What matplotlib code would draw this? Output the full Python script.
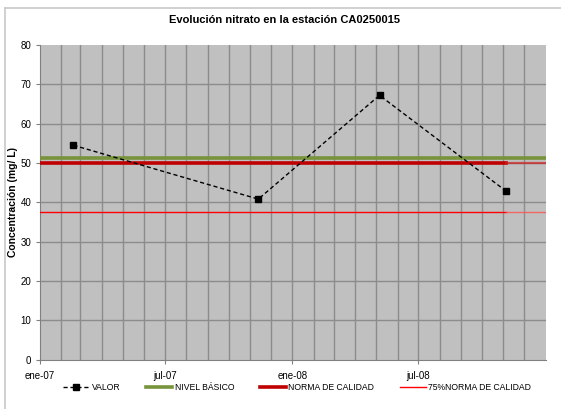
import datetime as dt
import matplotlib
matplotlib.use('Agg')
import matplotlib.pyplot as plt
from matplotlib.lines import Line2D

plt.rcParams['font.family'] = ['Liberation Sans', 'DejaVu Sans']

# data
fechas = [dt.date(2007, 2, 19), dt.date(2007, 11, 13), dt.date(2008, 5, 6), dt.date(2008, 11, 5)]
valor = [54.5, 40.8, 67.2, 42.8]
nivel_basico = 51.3
norma = 50.0
norma75 = 37.5
xmin = dt.date(2007, 1, 1)
xmax = dt.date(2009, 1, 1)
meses_label = ['ene-07', 'jul-07', 'ene-08', 'jul-08']
meses_pos = [dt.date(2007, 1, 1), dt.date(2007, 7, 1), dt.date(2008, 1, 1), dt.date(2008, 7, 1)]

fig = plt.figure(figsize=(5.61, 4.09), dpi=100)
ax = fig.add_axes([39.5/561, 1 - 359.5/409, (545.7 - 39.5)/561, (359.5 - 45)/409])
ax.set_facecolor('#C0C0C0')

# monthly vertical grid
for y in range(2007, 2009):
    for m in range(1, 13):
        d = dt.date(y, m, 1)
        if xmin < d < xmax:
            ax.axvline(d, color='#8C8C8C', lw=1.0, zorder=1)
for v in range(10, 80, 10):
    ax.axhline(v, color='#8C8C8C', lw=1.0, zorder=1)

# reference lines
ax.plot([xmin, xmax], [nivel_basico, nivel_basico], color='#77933C', lw=2.6, zorder=3)
ax.plot([xmin, fechas[-1]], [norma, norma], color='#C00000', lw=2.6, zorder=3)
ax.plot([fechas[-1], xmax], [norma, norma], color='#D02020', lw=1.6, alpha=0.7, zorder=3)
ax.plot([xmin, fechas[-1]], [norma75, norma75], color='#FF0000', lw=1.0, zorder=3)
ax.plot([fechas[-1], xmax], [norma75, norma75], color='#FF5050', lw=1.0, alpha=0.8, zorder=3)

ax.plot(fechas, valor, color='black', ls=(0, (3, 2)), lw=1.0, marker='s', ms=4.5,
        markerfacecolor='black', zorder=4)

ax.set_xlim(xmin, xmax)
ax.set_ylim(0, 80)
ax.set_yticks(range(0, 90, 10))
ax.set_xticks(meses_pos)
ax.set_xticklabels(meses_label)
ax.tick_params(axis='both', labelsize=7, length=3, color='#808080', pad=3)
ax.tick_params(axis='x', pad=5)
for s in ['top', 'right']:
    ax.spines[s].set_visible(False)
ax.spines['left'].set_color('#808080')
ax.spines['bottom'].set_color('#808080')

ax.set_ylabel('Concentración (mg/ L)', fontsize=7.5, fontweight='bold', labelpad=2)
fig.text(0.508, 1 - 20/409, 'Evolución nitrato en la estación CA0250015', ha='center', va='center',
         fontsize=8, fontweight='bold')

handles = [
    Line2D([], [], color='black', ls=(0, (3, 2)), lw=1.0, marker='s', ms=4),
    Line2D([], [], color='#77933C', lw=2.6),
    Line2D([], [], color='#C00000', lw=2.6),
    Line2D([], [], color='#FF0000', lw=1.0),
]
labels = ['VALOR', 'NIVEL BÁSICO', 'NORMA DE CALIDAD', '75%NORMA DE CALIDAD']
fig.legend(handles, labels, loc='center', bbox_to_anchor=(0.53, 1 - 388/409), ncol=4,
           frameon=False, fontsize=6.2, handlelength=3.0, handletextpad=0.3, columnspacing=3.0)

# outer chart border (top and left visible)
fig.add_artist(Line2D([5/561, 1], [1 - 8/409, 1 - 8/409], transform=fig.transFigure, color='#C8C8C8', lw=1.2))
fig.add_artist(Line2D([5/561, 5/561], [0, 1 - 8/409], transform=fig.transFigure, color='#C8C8C8', lw=1.2))

fig.savefig('out.png', dpi=100)
